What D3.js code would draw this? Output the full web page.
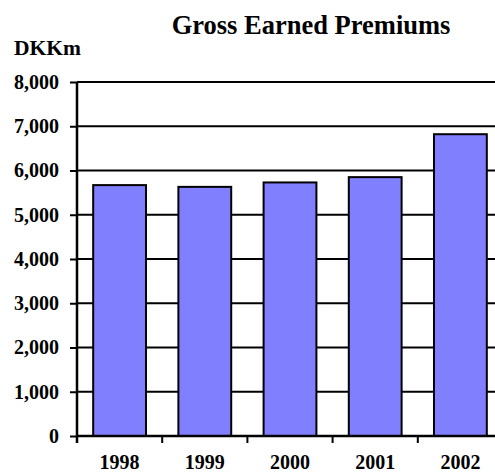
<!DOCTYPE html>
<html lang="en">
<head>
<meta charset="UTF-8">
<title>Gross Earned Premiums</title>
<style>
  body { margin:0; background:#fff; }
  svg { display:block; }
  text { font-family: "Liberation Serif", "Times New Roman", serif; font-weight: bold; fill:#000; }
</style>
</head>
<body>
<svg width="495" height="473"></svg>
<script src="https://cdnjs.cloudflare.com/ajax/libs/d3/7.8.5/d3.min.js"></script>
<script>
const years = ["1998", "1999", "2000", "2001", "2002"]
const premiums = [5670, 5630, 5730, 5850, 6820]
const yTicks = [0, 1000, 2000, 3000, 4000, 5000, 6000, 7000, 8000]

const svg = d3.select("svg")

// plot area runs past the right edge of the picture, as in the original
const plotLeft = 77, plotRight = 503, plotTop = 82, plotBottom = 436

const x = d3.scaleBand()
  .domain(years)
  .range([plotLeft, plotRight])
  .paddingInner(0.38)
  .paddingOuter(0.19)

const y = d3.scaleLinear()
  .domain([0, 8000])
  .range([plotBottom, plotTop])

const fmt = d3.format(",")

// gridlines
svg.append("g")
  .selectAll("line")
  .data(yTicks.filter(d => d > 0))
  .join("line")
    .attr("x1", plotLeft)
    .attr("x2", plotRight)
    .attr("y1", d => y(d))
    .attr("y2", d => y(d))
    .attr("stroke", "#000")
    .attr("stroke-width", 2)

// bars
svg.append("g")
  .selectAll("rect")
  .data(premiums)
  .join("rect")
    .attr("x", (d, i) => x(years[i]))
    .attr("y", d => y(d))
    .attr("width", x.bandwidth())
    .attr("height", d => y(0) - y(d))
    .attr("fill", "#8080ff")
    .attr("stroke", "#000")
    .attr("stroke-width", 2)

// y axis
const yAxis = svg.append("g")
  .attr("transform", `translate(${plotLeft},0)`)
  .call(d3.axisLeft(y).tickValues(yTicks).tickFormat(fmt).tickSize(7).tickPadding(11))
yAxis.attr("font-family", null).attr("font-size", null)
yAxis.select(".domain").attr("d", `M0,${plotTop}V${plotBottom + 7}`).attr("stroke-width", 2.5)
yAxis.selectAll(".tick line").attr("stroke-width", 2)
yAxis.selectAll(".tick text")
  .style("font-size", "20px")
  .style("font-family", "'Liberation Serif', 'Times New Roman', serif")
  .style("font-weight", "bold")

// x axis: ticks between categories
const step = x.step()
const boundaries = d3.range(years.length + 1).map(i => plotLeft + i * step)
svg.append("line")
  .attr("x1", plotLeft).attr("x2", plotRight)
  .attr("y1", plotBottom).attr("y2", plotBottom)
  .attr("stroke", "#000").attr("stroke-width", 2.5)
svg.append("g")
  .selectAll("line")
  .data(boundaries)
  .join("line")
    .attr("x1", d => d).attr("x2", d => d)
    .attr("y1", plotBottom).attr("y2", plotBottom + 7)
    .attr("stroke", "#000").attr("stroke-width", 2)

svg.append("g")
  .selectAll("text")
  .data(years)
  .join("text")
    .attr("x", d => x(d) + x.bandwidth() / 2)
    .attr("y", 469)
    .attr("text-anchor", "middle")
    .attr("font-size", 20)
    .text(d => d)

// titles
svg.append("text")
  .attr("x", 311).attr("y", 34)
  .attr("text-anchor", "middle")
  .attr("font-size", 26.5)
  .text("Gross Earned Premiums")

svg.append("text")
  .attr("x", 14).attr("y", 55)
  .attr("font-size", 21.5)
  .text("DKKm")
</script>
</body>
</html>
